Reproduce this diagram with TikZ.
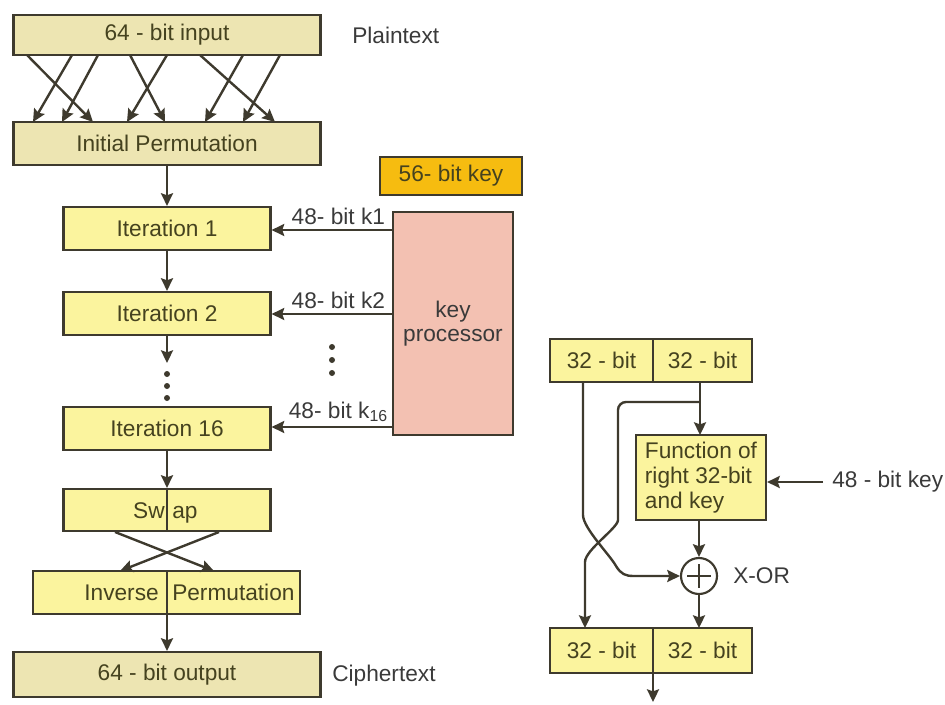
\documentclass[tikz,border=0pt]{standalone}
\usepackage{fontspec}
\setmainfont{Liberation Sans}
\usetikzlibrary{arrows.meta,calc}
\definecolor{beige}{HTML}{EDE5B2}
\definecolor{yel}{HTML}{FBF49E}
\definecolor{gold}{HTML}{F6BC10}
\definecolor{salmon}{HTML}{F3C1B2}
\definecolor{edge}{HTML}{3E3A2E}
\definecolor{intext}{HTML}{45421F}
\definecolor{outtext}{HTML}{3A3A3A}
\tikzset{
  box/.style={draw=edge, line width=1.6pt, inner sep=0pt, text=intext, font=\fontsize{17}{19}\selectfont},
  beigebox/.style={box, fill=beige},
  yelbox/.style={box, fill=yel},
  lbl/.style={inner sep=0pt, text=outtext, font=\fontsize{17}{19}\selectfont},
  arr/.style={draw=edge, line width=1.8pt, -{Stealth[length=9.5pt,width=9pt,inset=1.5pt]}},
  ln/.style={draw=edge, line width=1.8pt},
  dot/.style={circle, fill=edge, inner sep=0pt, minimum size=4.5pt}
}
\begin{document}
\begin{tikzpicture}[x=0.75pt,y=-0.75pt]
\useasboundingbox (0,0) rectangle (945,704);
% ---------------- left chain ----------------
\node[beigebox, minimum width=230.25pt, minimum height=30pt] (in) at (167,35) {64 - bit input};
\node[lbl, anchor=west] (pt) at (352,35) {Plaintext};
\node[beigebox, minimum width=230.25pt, minimum height=32.25pt] (ip) at (167,143.5) {Initial Permutation};
% permutation arrows
\foreach \a/\b [count=\i] in {27/93, 72/33, 98/62, 130/165, 167/127, 200/275, 243/205, 280/243}{
  \coordinate (ps\i) at (\a,55);
  \coordinate (pe\i) at (\b,122);
  \draw[arr] (ps\i) -- (pe\i);
}
\node[yelbox, minimum width=155.25pt, minimum height=32.25pt] (it1) at (167,228.5) {Iteration 1};
\node[yelbox, minimum width=155.25pt, minimum height=32.25pt] (it2) at (167,313.5) {Iteration 2};
\node[yelbox, minimum width=155.25pt, minimum height=32.25pt] (it16) at (167,428.5) {Iteration 16};
\node[yelbox, minimum width=155.25pt, minimum height=31.5pt] (swap) at (167,510) {};
\node[lbl, text=intext, anchor=base east] (swl) at (165,518) {Sw};
\node[lbl, text=intext, anchor=base west] (swr) at (172,518) {ap};
\node[yelbox, minimum width=200.25pt, minimum height=32.25pt] (inv) at (166.5,592.5) {};
\node[lbl, text=intext, anchor=base east] (invl) at (159,600.5) {Inverse};
\node[lbl, text=intext, anchor=base west] (invr) at (172,600.5) {Permutation};
\node[beigebox, minimum width=230.25pt, minimum height=33.75pt] (out) at (167,674.5) {64 - bit output};
\node[lbl, anchor=west] (ct) at (332,676) {Ciphertext};

\draw[arr] (ip.south) -- (it1.north);
\draw[arr] (it1.south) -- (it2.north);
\coordinate (d0) at (167,363);
\draw[arr] (it2.south) -- (d0);
\node[dot] (da) at (167,374) {};
\node[dot] (db) at (167,386) {};
\node[dot] (dc) at (167,398) {};
\draw[arr] (it16.south) -- (swap.north);
\draw[ln] (swap.north) -- (swap.south);
% swap crossing
\coordinate (s1) at (115,532);
\coordinate (s2) at (219,532);
\coordinate (e1) at (214,571);
\coordinate (e2) at (120,571);
\draw[arr] (s1) -- (e1);
\draw[arr] (s2) -- (e2);
\coordinate (invt) at (167,571);
\coordinate (invb) at (167,614);
\draw[ln] (invt) -- (invb);
\draw[arr] (invb) -- (out.north);

% ---------------- key schedule ----------------
\node[box, fill=gold, minimum width=106.5pt, minimum height=28.5pt] (k56) at (451,176) {56- bit key};
\node[box, fill=salmon, text=outtext, minimum width=90pt, minimum height=167.25pt, align=center] (kp) at (453,323.5) {key\\[-1pt]processor};
\coordinate (k1s) at (393,230);
\coordinate (k2s) at (393,314);
\coordinate (k16s) at (393,427);
\draw[arr] (k1s) -- (k1s -| it1.east) node[lbl, pos=0.45, above=3pt] (l1) {48- bit k1};
\draw[arr] (k2s) -- (k2s -| it2.east) node[lbl, pos=0.45, above=3pt] (l2) {48- bit k2};
\draw[arr] (k16s) -- (k16s -| it16.east) node[lbl, pos=0.45, above=3pt] (l16) {48- bit k\textsubscript{16}};
\node[dot] (kd1) at (332,347) {};
\node[dot] (kd2) at (332,360) {};
\node[dot] (kd3) at (332,373) {};

% ---------------- round detail ----------------
\node[yelbox, minimum width=77.25pt, minimum height=32.25pt] (tl) at (601.5,360.5) {32 - bit};
\node[yelbox, minimum width=74.25pt, minimum height=32.25pt] (tr) at (702.5,360.5) {32 - bit};
\node[yelbox, minimum width=97.5pt, minimum height=63.75pt, align=left] (fn) at (701,477.5) {Function of\\right 32-bit\\and key};
\node[circle, draw=edge, line width=1.6pt, fill=white, minimum size=27pt, inner sep=0pt] (xor) at (699,576) {};
\draw[edge, line width=1.8pt] ($(xor.center)+(-12,0)$) -- ($(xor.center)+(12,0)$);
\draw[edge, line width=1.8pt] ($(xor.center)+(0,-12)$) -- ($(xor.center)+(0,12)$);
\node[lbl, anchor=west] (xl) at (733,576) {X-OR};
\node[yelbox, minimum width=77.25pt, minimum height=33.75pt] (bl) at (601.5,650.5) {32 - bit};
\node[yelbox, minimum width=74.25pt, minimum height=33.75pt] (br) at (702.5,650.5) {32 - bit};
\node[lbl, anchor=west] (kl) at (832,482) {48 - bit key};

\coordinate (rtop) at (700,382);
\coordinate (br1) at (700,402);
\coordinate (ftop) at (700,435);
\draw[arr] (rtop) -- (ftop);
% right half crossing down to left bottom
\coordinate (lbtop) at (585,628);
\draw[arr, rounded corners=6pt] (br1) -- (618,402) -- (618,512)
   .. controls (618,528) and (585,550) .. (585,570) -- (lbtop);
% left half to xor
\coordinate (ltop) at (583,382);
\draw[arr] (ltop) -- (583,515) .. controls (583,528) and (610,555) .. (616,566)
   .. controls (621,574) and (625,576) .. (634,576) -- (xor.west);
\draw[arr] (fn.south -| xor.north) -- (xor.north);
\coordinate (rbtop) at (699,628);
\draw[arr] (xor.south) -- (rbtop);
\coordinate (kin) at (823,482);
\draw[arr] (kin) -- (fn.east |- kin);
\coordinate (bmid) at (653,673);
\coordinate (bend) at (653,702);
\draw[arr] (bmid) -- (bend);
\end{tikzpicture}
\end{document}
